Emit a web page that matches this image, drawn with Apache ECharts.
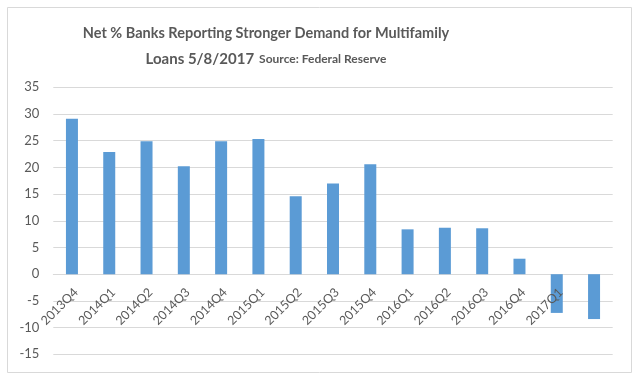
<!DOCTYPE html>
<html><head><meta charset="utf-8">
<script src="https://cdn.jsdelivr.net/npm/echarts@6/dist/echarts.min.js"></script>
<style>html,body{margin:0;padding:0;background:#fff}#c{width:640px;height:381px}</style>
</head><body><div id="c"></div>
<script>
var categories = ['2013Q4','2014Q1','2014Q2','2014Q3','2014Q4','2015Q1','2015Q2','2015Q3','2015Q4','2016Q1','2016Q2','2016Q3','2016Q4','2017Q1',''];
var values = [29.1, 22.9, 24.9, 20.2, 24.9, 25.3, 14.6, 17.0, 20.6, 8.4, 8.7, 8.6, 2.9, -7.25, -8.4];
var yMin = -15, yMax = 35, yStep = 5;

var chart = echarts.init(document.getElementById('c'));
var labelFont = {fontFamily: 'Lato', fontSize: 12.5, color: '#595959'};
chart.setOption({
  animation: false,
  backgroundColor: '#fff',
  graphic: [{
    type: 'rect', shape: {x: 7.5, y: 7.5, width: 624, height: 365},
    style: {fill: 'none', stroke: '#d9d9d9', lineWidth: 1}, silent: true
  }],
  title: {
    text: '{a|Net % Banks Reporting Stronger Demand for Multifamily}\n{b|Loans 5/8/2017} {c|Source: Federal Reserve}',
    left: 261, top: 15, textAlign: 'center',
    textStyle: {
      rich: {
        a: {fontFamily: 'Lato', fontWeight: 'bold', fontSize: 14.5, color: '#595959', lineHeight: 26, align: 'center'},
        b: {fontFamily: 'Lato', fontWeight: 'bold', fontSize: 15, color: '#595959', lineHeight: 26},
        c: {fontFamily: 'Lato', fontWeight: 'bold', fontSize: 12, color: '#595959', lineHeight: 26}
      }
    }
  },
  grid: [
    {left: 53.3, right: 27.3, top: 87.3, bottom: 26.7, containLabel: false, outerBoundsMode: 'none'},
    {left: 57.3, right: 23.3, top: 87.3, bottom: 26.7, containLabel: false, outerBoundsMode: 'none'}
  ],
  xAxis: [{
    type: 'category', data: categories, offset: -80, gridIndex: 0,
    axisLine: {onZero: false, lineStyle: {color: '#d9d9d9'}},
    axisTick: {show: false},
    axisLabel: {show: false}
  }, {
    type: 'category', data: categories, offset: -80, gridIndex: 1, z: 5,
    axisLine: {show: false, onZero: false},
    axisTick: {show: false},
    splitLine: {show: false},
    axisLabel: Object.assign({interval: 0, rotate: 45, margin: 16}, labelFont)
  }],
  yAxis: [{
    type: 'value', min: yMin, max: yMax, interval: yStep, gridIndex: 0,
    axisLine: {show: false}, axisTick: {show: false},
    axisLabel: {fontFamily: 'Lato', fontSize: 13, color: '#595959', margin: 14},
    splitLine: {lineStyle: {color: '#d9d9d9', width: 1}}
  }, {
    type: 'value', min: yMin, max: yMax, interval: yStep, gridIndex: 1, show: false,
    splitLine: {show: false}
  }],
  series: [{
    type: 'bar', data: values, barWidth: 12, xAxisIndex: 0, yAxisIndex: 0,
    itemStyle: {color: '#5b9bd5'}
  }]
});
</script></body></html>
